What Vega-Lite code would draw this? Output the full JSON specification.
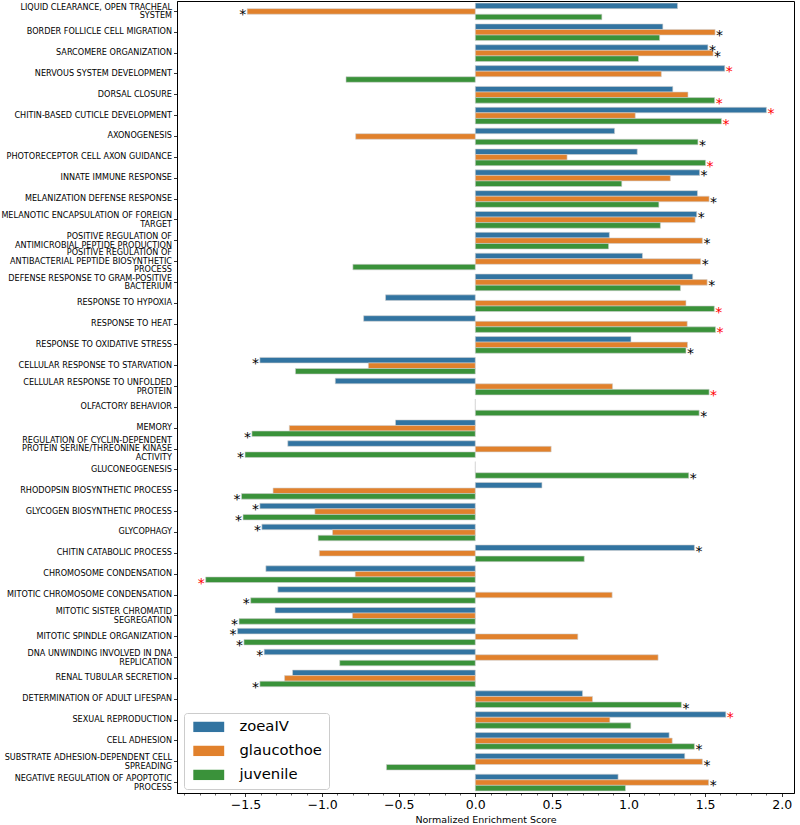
{
  "$schema": "https://vega.github.io/schema/vega-lite/v6.json",
  "width": 617,
  "height": 792,
  "autosize": "none",
  "padding": {"left": 177, "top": 1, "right": 6, "bottom": 32},
  "config": {
    "font": "DejaVu Sans",
    "view": {"stroke": "black", "strokeWidth": 1},
    "axis": {"grid": false, "domainColor": "black", "tickColor": "black", "labelColor": "black", "titleColor": "black", "labelFont": "DejaVu Sans", "titleFont": "DejaVu Sans", "titleFontWeight": "normal", "domainWidth": 1, "tickWidth": 0.8}
  },
  "data": {"values": [
    {"term": "LIQUID CLEARANCE, OPEN TRACHEAL|SYSTEM", "stage": "zoeaIV", "nes": 1.32, "sig": ""},
    {"term": "LIQUID CLEARANCE, OPEN TRACHEAL|SYSTEM", "stage": "glaucothoe", "nes": -1.489, "sig": "p"},
    {"term": "LIQUID CLEARANCE, OPEN TRACHEAL|SYSTEM", "stage": "juvenile", "nes": 0.826, "sig": ""},
    {"term": "BORDER FOLLICLE CELL MIGRATION", "stage": "zoeaIV", "nes": 1.224, "sig": ""},
    {"term": "BORDER FOLLICLE CELL MIGRATION", "stage": "glaucothoe", "nes": 1.565, "sig": "p"},
    {"term": "BORDER FOLLICLE CELL MIGRATION", "stage": "juvenile", "nes": 1.203, "sig": ""},
    {"term": "SARCOMERE ORGANIZATION", "stage": "zoeaIV", "nes": 1.518, "sig": "p"},
    {"term": "SARCOMERE ORGANIZATION", "stage": "glaucothoe", "nes": 1.552, "sig": "p"},
    {"term": "SARCOMERE ORGANIZATION", "stage": "juvenile", "nes": 1.065, "sig": ""},
    {"term": "NERVOUS SYSTEM DEVELOPMENT", "stage": "zoeaIV", "nes": 1.628, "sig": "q"},
    {"term": "NERVOUS SYSTEM DEVELOPMENT", "stage": "glaucothoe", "nes": 1.214, "sig": ""},
    {"term": "NERVOUS SYSTEM DEVELOPMENT", "stage": "juvenile", "nes": -0.844, "sig": ""},
    {"term": "DORSAL CLOSURE", "stage": "zoeaIV", "nes": 1.289, "sig": ""},
    {"term": "DORSAL CLOSURE", "stage": "glaucothoe", "nes": 1.388, "sig": ""},
    {"term": "DORSAL CLOSURE", "stage": "juvenile", "nes": 1.562, "sig": "q"},
    {"term": "CHITIN-BASED CUTICLE DEVELOPMENT", "stage": "zoeaIV", "nes": 1.9, "sig": "q"},
    {"term": "CHITIN-BASED CUTICLE DEVELOPMENT", "stage": "glaucothoe", "nes": 1.044, "sig": ""},
    {"term": "CHITIN-BASED CUTICLE DEVELOPMENT", "stage": "juvenile", "nes": 1.607, "sig": "q"},
    {"term": "AXONOGENESIS", "stage": "zoeaIV", "nes": 0.909, "sig": ""},
    {"term": "AXONOGENESIS", "stage": "glaucothoe", "nes": -0.781, "sig": ""},
    {"term": "AXONOGENESIS", "stage": "juvenile", "nes": 1.453, "sig": "p"},
    {"term": "PHOTORECEPTOR CELL AXON GUIDANCE", "stage": "zoeaIV", "nes": 1.057, "sig": ""},
    {"term": "PHOTORECEPTOR CELL AXON GUIDANCE", "stage": "glaucothoe", "nes": 0.599, "sig": ""},
    {"term": "PHOTORECEPTOR CELL AXON GUIDANCE", "stage": "juvenile", "nes": 1.503, "sig": "q"},
    {"term": "INNATE IMMUNE RESPONSE", "stage": "zoeaIV", "nes": 1.464, "sig": "p"},
    {"term": "INNATE IMMUNE RESPONSE", "stage": "glaucothoe", "nes": 1.273, "sig": ""},
    {"term": "INNATE IMMUNE RESPONSE", "stage": "juvenile", "nes": 0.956, "sig": ""},
    {"term": "MELANIZATION DEFENSE RESPONSE", "stage": "zoeaIV", "nes": 1.45, "sig": ""},
    {"term": "MELANIZATION DEFENSE RESPONSE", "stage": "glaucothoe", "nes": 1.526, "sig": "p"},
    {"term": "MELANIZATION DEFENSE RESPONSE", "stage": "juvenile", "nes": 1.198, "sig": ""},
    {"term": "MELANOTIC ENCAPSULATION OF FOREIGN|TARGET", "stage": "zoeaIV", "nes": 1.445, "sig": "p"},
    {"term": "MELANOTIC ENCAPSULATION OF FOREIGN|TARGET", "stage": "glaucothoe", "nes": 1.435, "sig": ""},
    {"term": "MELANOTIC ENCAPSULATION OF FOREIGN|TARGET", "stage": "juvenile", "nes": 1.208, "sig": ""},
    {"term": "POSITIVE REGULATION OF|ANTIMICROBIAL PEPTIDE PRODUCTION", "stage": "zoeaIV", "nes": 0.875, "sig": ""},
    {"term": "POSITIVE REGULATION OF|ANTIMICROBIAL PEPTIDE PRODUCTION", "stage": "glaucothoe", "nes": 1.482, "sig": "p"},
    {"term": "POSITIVE REGULATION OF|ANTIMICROBIAL PEPTIDE PRODUCTION", "stage": "juvenile", "nes": 0.87, "sig": ""},
    {"term": "POSITIVE REGULATION OF|ANTIBACTERIAL PEPTIDE BIOSYNTHETIC|PROCESS", "stage": "zoeaIV", "nes": 1.091, "sig": ""},
    {"term": "POSITIVE REGULATION OF|ANTIBACTERIAL PEPTIDE BIOSYNTHETIC|PROCESS", "stage": "glaucothoe", "nes": 1.471, "sig": "p"},
    {"term": "POSITIVE REGULATION OF|ANTIBACTERIAL PEPTIDE BIOSYNTHETIC|PROCESS", "stage": "juvenile", "nes": -0.799, "sig": ""},
    {"term": "DEFENSE RESPONSE TO GRAM-POSITIVE|BACTERIUM", "stage": "zoeaIV", "nes": 1.419, "sig": ""},
    {"term": "DEFENSE RESPONSE TO GRAM-POSITIVE|BACTERIUM", "stage": "glaucothoe", "nes": 1.513, "sig": "p"},
    {"term": "DEFENSE RESPONSE TO GRAM-POSITIVE|BACTERIUM", "stage": "juvenile", "nes": 1.339, "sig": ""},
    {"term": "RESPONSE TO HYPOXIA", "stage": "zoeaIV", "nes": -0.586, "sig": ""},
    {"term": "RESPONSE TO HYPOXIA", "stage": "glaucothoe", "nes": 1.375, "sig": ""},
    {"term": "RESPONSE TO HYPOXIA", "stage": "juvenile", "nes": 1.56, "sig": "q"},
    {"term": "RESPONSE TO HEAT", "stage": "zoeaIV", "nes": -0.729, "sig": ""},
    {"term": "RESPONSE TO HEAT", "stage": "glaucothoe", "nes": 1.383, "sig": ""},
    {"term": "RESPONSE TO HEAT", "stage": "juvenile", "nes": 1.568, "sig": "q"},
    {"term": "RESPONSE TO OXIDATIVE STRESS", "stage": "zoeaIV", "nes": 1.016, "sig": ""},
    {"term": "RESPONSE TO OXIDATIVE STRESS", "stage": "glaucothoe", "nes": 1.385, "sig": ""},
    {"term": "RESPONSE TO OXIDATIVE STRESS", "stage": "juvenile", "nes": 1.375, "sig": "p"},
    {"term": "CELLULAR RESPONSE TO STARVATION", "stage": "zoeaIV", "nes": -1.406, "sig": "p"},
    {"term": "CELLULAR RESPONSE TO STARVATION", "stage": "glaucothoe", "nes": -0.698, "sig": ""},
    {"term": "CELLULAR RESPONSE TO STARVATION", "stage": "juvenile", "nes": -1.174, "sig": ""},
    {"term": "CELLULAR RESPONSE TO UNFOLDED|PROTEIN", "stage": "zoeaIV", "nes": -0.914, "sig": ""},
    {"term": "CELLULAR RESPONSE TO UNFOLDED|PROTEIN", "stage": "glaucothoe", "nes": 0.896, "sig": ""},
    {"term": "CELLULAR RESPONSE TO UNFOLDED|PROTEIN", "stage": "juvenile", "nes": 1.526, "sig": "q"},
    {"term": "OLFACTORY BEHAVIOR", "stage": "zoeaIV", "nes": 0, "sig": ""},
    {"term": "OLFACTORY BEHAVIOR", "stage": "glaucothoe", "nes": 0, "sig": ""},
    {"term": "OLFACTORY BEHAVIOR", "stage": "juvenile", "nes": 1.461, "sig": "p"},
    {"term": "MEMORY", "stage": "zoeaIV", "nes": -0.521, "sig": ""},
    {"term": "MEMORY", "stage": "glaucothoe", "nes": -1.214, "sig": ""},
    {"term": "MEMORY", "stage": "juvenile", "nes": -1.458, "sig": "p"},
    {"term": "REGULATION OF CYCLIN-DEPENDENT|PROTEIN SERINE/THREONINE KINASE|ACTIVITY", "stage": "zoeaIV", "nes": -1.224, "sig": ""},
    {"term": "REGULATION OF CYCLIN-DEPENDENT|PROTEIN SERINE/THREONINE KINASE|ACTIVITY", "stage": "glaucothoe", "nes": 0.495, "sig": ""},
    {"term": "REGULATION OF CYCLIN-DEPENDENT|PROTEIN SERINE/THREONINE KINASE|ACTIVITY", "stage": "juvenile", "nes": -1.503, "sig": "p"},
    {"term": "GLUCONEOGENESIS", "stage": "zoeaIV", "nes": 0, "sig": ""},
    {"term": "GLUCONEOGENESIS", "stage": "glaucothoe", "nes": 0, "sig": ""},
    {"term": "GLUCONEOGENESIS", "stage": "juvenile", "nes": 1.393, "sig": "p"},
    {"term": "RHODOPSIN BIOSYNTHETIC PROCESS", "stage": "zoeaIV", "nes": 0.435, "sig": ""},
    {"term": "RHODOPSIN BIOSYNTHETIC PROCESS", "stage": "glaucothoe", "nes": -1.32, "sig": ""},
    {"term": "RHODOPSIN BIOSYNTHETIC PROCESS", "stage": "juvenile", "nes": -1.526, "sig": "p"},
    {"term": "GLYCOGEN BIOSYNTHETIC PROCESS", "stage": "zoeaIV", "nes": -1.406, "sig": "p"},
    {"term": "GLYCOGEN BIOSYNTHETIC PROCESS", "stage": "glaucothoe", "nes": -1.047, "sig": ""},
    {"term": "GLYCOGEN BIOSYNTHETIC PROCESS", "stage": "juvenile", "nes": -1.516, "sig": "p"},
    {"term": "GLYCOPHAGY", "stage": "zoeaIV", "nes": -1.393, "sig": "p"},
    {"term": "GLYCOPHAGY", "stage": "glaucothoe", "nes": -0.932, "sig": ""},
    {"term": "GLYCOPHAGY", "stage": "juvenile", "nes": -1.026, "sig": ""},
    {"term": "CHITIN CATABOLIC PROCESS", "stage": "zoeaIV", "nes": 1.43, "sig": "p"},
    {"term": "CHITIN CATABOLIC PROCESS", "stage": "glaucothoe", "nes": -1.018, "sig": ""},
    {"term": "CHITIN CATABOLIC PROCESS", "stage": "juvenile", "nes": 0.711, "sig": ""},
    {"term": "CHROMOSOME CONDENSATION", "stage": "zoeaIV", "nes": -1.367, "sig": ""},
    {"term": "CHROMOSOME CONDENSATION", "stage": "glaucothoe", "nes": -0.784, "sig": ""},
    {"term": "CHROMOSOME CONDENSATION", "stage": "juvenile", "nes": -1.76, "sig": "q"},
    {"term": "MITOTIC CHROMOSOME CONDENSATION", "stage": "zoeaIV", "nes": -1.289, "sig": ""},
    {"term": "MITOTIC CHROMOSOME CONDENSATION", "stage": "glaucothoe", "nes": 0.893, "sig": ""},
    {"term": "MITOTIC CHROMOSOME CONDENSATION", "stage": "juvenile", "nes": -1.466, "sig": "p"},
    {"term": "MITOTIC SISTER CHROMATID|SEGREGATION", "stage": "zoeaIV", "nes": -1.307, "sig": ""},
    {"term": "MITOTIC SISTER CHROMATID|SEGREGATION", "stage": "glaucothoe", "nes": -0.802, "sig": ""},
    {"term": "MITOTIC SISTER CHROMATID|SEGREGATION", "stage": "juvenile", "nes": -1.542, "sig": "p"},
    {"term": "MITOTIC SPINDLE ORGANIZATION", "stage": "zoeaIV", "nes": -1.552, "sig": "p"},
    {"term": "MITOTIC SPINDLE ORGANIZATION", "stage": "glaucothoe", "nes": 0.669, "sig": ""},
    {"term": "MITOTIC SPINDLE ORGANIZATION", "stage": "juvenile", "nes": -1.51, "sig": "p"},
    {"term": "DNA UNWINDING INVOLVED IN DNA|REPLICATION", "stage": "zoeaIV", "nes": -1.378, "sig": "p"},
    {"term": "DNA UNWINDING INVOLVED IN DNA|REPLICATION", "stage": "glaucothoe", "nes": 1.193, "sig": ""},
    {"term": "DNA UNWINDING INVOLVED IN DNA|REPLICATION", "stage": "juvenile", "nes": -0.885, "sig": ""},
    {"term": "RENAL TUBULAR SECRETION", "stage": "zoeaIV", "nes": -1.193, "sig": ""},
    {"term": "RENAL TUBULAR SECRETION", "stage": "glaucothoe", "nes": -1.245, "sig": ""},
    {"term": "RENAL TUBULAR SECRETION", "stage": "juvenile", "nes": -1.406, "sig": "p"},
    {"term": "DETERMINATION OF ADULT LIFESPAN", "stage": "zoeaIV", "nes": 0.7, "sig": ""},
    {"term": "DETERMINATION OF ADULT LIFESPAN", "stage": "glaucothoe", "nes": 0.765, "sig": ""},
    {"term": "DETERMINATION OF ADULT LIFESPAN", "stage": "juvenile", "nes": 1.345, "sig": "p"},
    {"term": "SEXUAL REPRODUCTION", "stage": "zoeaIV", "nes": 1.635, "sig": "q"},
    {"term": "SEXUAL REPRODUCTION", "stage": "glaucothoe", "nes": 0.878, "sig": ""},
    {"term": "SEXUAL REPRODUCTION", "stage": "juvenile", "nes": 1.015, "sig": ""},
    {"term": "CELL ADHESION", "stage": "zoeaIV", "nes": 1.265, "sig": ""},
    {"term": "CELL ADHESION", "stage": "glaucothoe", "nes": 1.285, "sig": ""},
    {"term": "CELL ADHESION", "stage": "juvenile", "nes": 1.43, "sig": "p"},
    {"term": "SUBSTRATE ADHESION-DEPENDENT CELL|SPREADING", "stage": "zoeaIV", "nes": 1.367, "sig": ""},
    {"term": "SUBSTRATE ADHESION-DEPENDENT CELL|SPREADING", "stage": "glaucothoe", "nes": 1.482, "sig": "p"},
    {"term": "SUBSTRATE ADHESION-DEPENDENT CELL|SPREADING", "stage": "juvenile", "nes": -0.58, "sig": ""},
    {"term": "NEGATIVE REGULATION OF APOPTOTIC|PROCESS", "stage": "zoeaIV", "nes": 0.932, "sig": ""},
    {"term": "NEGATIVE REGULATION OF APOPTOTIC|PROCESS", "stage": "glaucothoe", "nes": 1.523, "sig": "p"},
    {"term": "NEGATIVE REGULATION OF APOPTOTIC|PROCESS", "stage": "juvenile", "nes": 0.98, "sig": ""}
  ]},
  "encoding": {
    "y": {"field": "term", "type": "nominal", "sort": null,
      "scale": {"paddingInner": 0.2, "paddingOuter": 0.1},
      "axis": {"title": null, "labelExpr": "split(datum.label, '|')", "labelFontSize": 8.1, "labelLineHeight": 8.5, "labelLimit": 0, "labelPadding": 2, "tickSize": 3.5,
        "labelOffset": {"condition": [
          {"test": "length(split(datum.value, '|')) == 3", "value": -8.5},
          {"test": "length(split(datum.value, '|')) == 2", "value": -3.5}
        ], "value": 0},
        "labelBaseline": "middle"}},
    "yOffset": {"field": "stage", "type": "nominal", "sort": ["zoeaIV", "glaucothoe", "juvenile"], "scale": {"paddingInner": 0, "paddingOuter": 0}},
    "x": {"field": "nes", "type": "quantitative", "scale": {"domain": [-1.947, 2.08], "nice": false, "zero": false}}
  },
  "layer": [
    {
      "mark": {"type": "bar", "stroke": "#d0d0d0", "strokeWidth": 0.6},
      "encoding": {
        "x": {"field": "nes", "type": "quantitative",
          "axis": {"orient": "bottom", "values": [-1.5, -1, -0.5, 0, 0.5, 1, 1.5, 2], "format": ".1f", "labelFontSize": 12.5, "tickSize": 3.5, "labelPadding": 2, "title": "Normalized Enrichment Score", "titleFontSize": 9.5, "titlePadding": 3}},
        "color": {"field": "stage", "type": "nominal", "sort": ["zoeaIV", "glaucothoe", "juvenile"],
          "scale": {"domain": ["zoeaIV", "glaucothoe", "juvenile"], "range": ["#3274a1", "#e1812c", "#3a923a"]},
          "legend": {"orient": "none", "legendX": 7, "legendY": 712, "title": null, "labelFontSize": 14.8, "labelColor": "black", "symbolType": "M-3,-1H3V1H-3Z", "symbolSize": 106, "symbolStrokeWidth": 0, "symbolOffset": 10.85, "labelOffset": 23.3, "rowPadding": 8, "padding": 6.5, "fillColor": "white", "strokeColor": "#cccccc", "cornerRadius": 3}}
      }
    },
    {
      "transform": [{"filter": "datum.sig != '' && datum.nes > 0"}],
      "mark": {"type": "text", "text": "*", "fontSize": 14, "align": "left", "baseline": "alphabetic", "dx": 1, "dy": 7.8},
      "encoding": {
        "x": {"field": "nes", "type": "quantitative",
          "axis": {"orient": "bottom", "values": [-1.9, -1.8, -1.7, -1.6, -1.4, -1.3, -1.2, -1.1, -0.9, -0.8, -0.7, -0.6, -0.4, -0.3, -0.2, -0.1, 0.1, 0.2, 0.3, 0.4, 0.6, 0.7, 0.8, 0.9, 1.1, 1.2, 1.3, 1.4, 1.6, 1.7, 1.8, 1.9], "labels": false, "tickSize": 2, "domain": false, "title": null, "tickWidth": 0.6}},
        "color": {"condition": {"test": "datum.sig == 'q'", "value": "red"}, "value": "black"}
      }
    },
    {
      "transform": [{"filter": "datum.sig != '' && datum.nes < 0"}],
      "mark": {"type": "text", "text": "*", "fontSize": 14, "align": "right", "baseline": "alphabetic", "dx": -1, "dy": 7.8},
      "encoding": {
        "x": {"field": "nes", "type": "quantitative", "axis": null},
        "color": {"condition": {"test": "datum.sig == 'q'", "value": "red"}, "value": "black"}
      }
    }
  ],
  "resolve": {"axis": {"x": "independent"}}
}
